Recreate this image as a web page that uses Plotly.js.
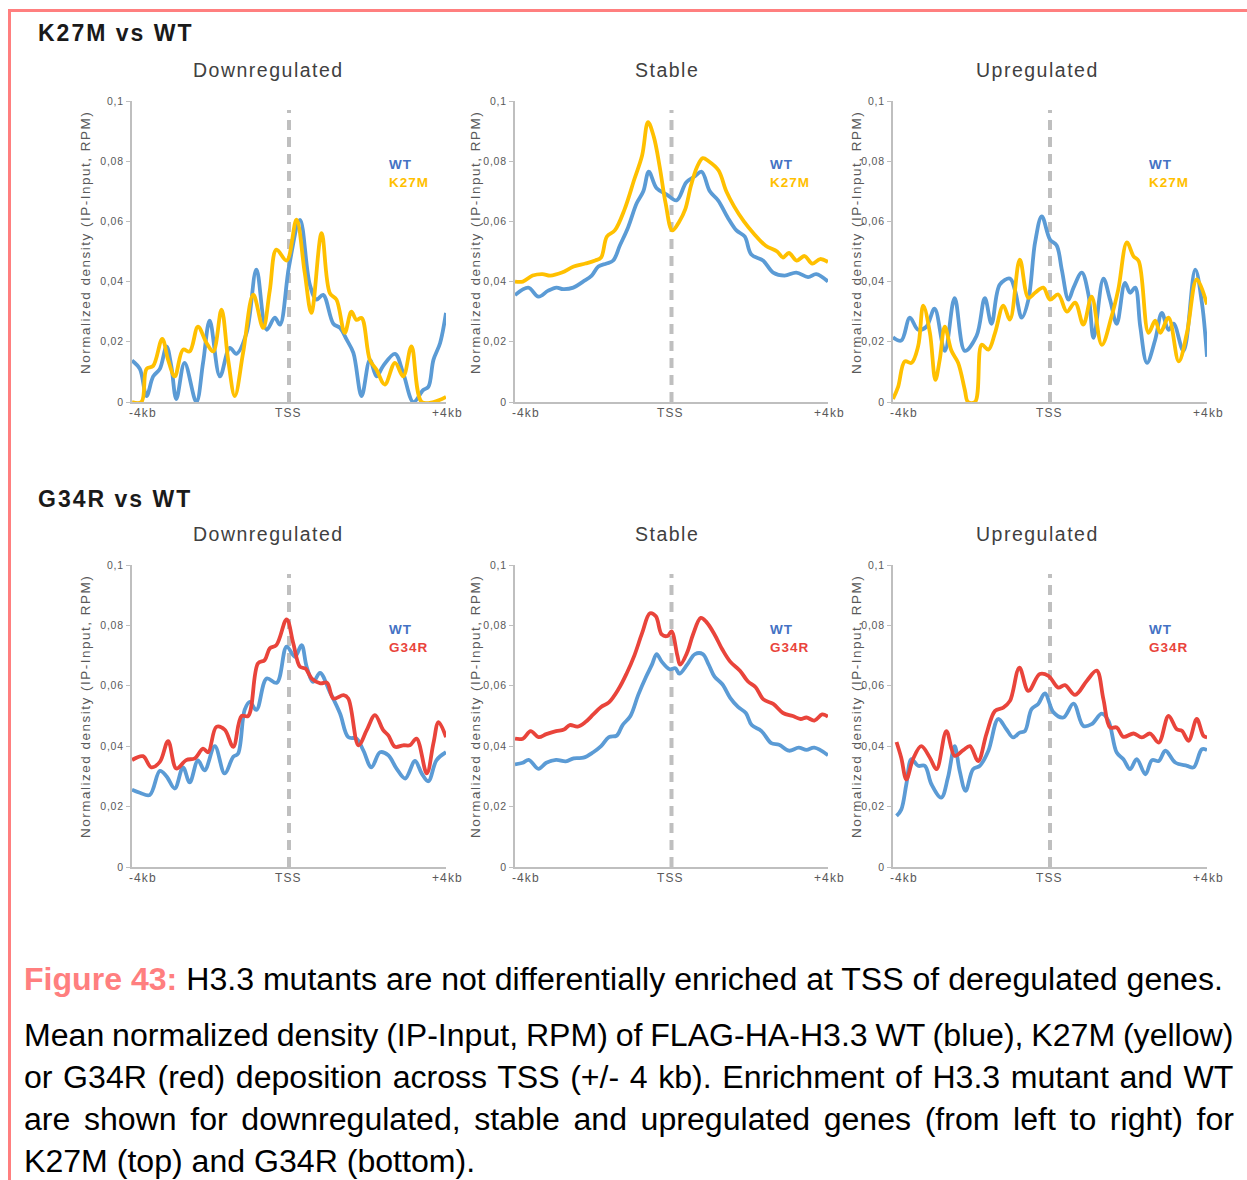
<!DOCTYPE html>
<html><head><meta charset="utf-8">
<script src="https://cdn.plot.ly/plotly-3.0.1.min.js"></script>
<style>html,body{margin:0;padding:0;background:#fff}#chart{width:1247px;height:1180px}</style>
</head><body><div id="chart"></div>
<script>
// ---------- DATA (x in kb relative to TSS, y = normalized density) ----------
var rowTitles = ["K27M vs WT", "G34R vs WT"];
var panelTitles = ["Downregulated", "Stable", "Upregulated"];
var mutantNames = ["K27M", "G34R"];
var xTickLabels = ["-4kb", "TSS", "+4kb"];
var yTickVals = [0, 0.02, 0.04, 0.06, 0.08, 0.1];
var yTickLabels = ["0", "0,02", "0,04", "0,06", "0,08", "0,1"];
var yTitle = "Normalized density (IP-Input, RPM)";

// K27M vs WT - Downregulated
var dn1_wt_x = [-4.00,-3.80,-3.63,-3.46,-3.29,-3.12,-3.00,-2.87,-2.66,-2.36,-2.19,-2.02,-1.76,-1.51,-1.34,-1.08,-0.83,-0.57,-0.36,-0.23,0.00,0.28,0.53,0.70,0.87,1.13,1.30,1.47,1.64,1.85,2.06,2.23,2.40,2.70,2.91,3.17,3.42,3.55,3.68,3.85,4.00];
var dn1_wt_y = [0.0138,0.011,0.002,0.0085,0.011,0.0185,0.012,0.001,0.013,0.0,0.013,0.027,0.0085,0.018,0.016,0.023,0.044,0.024,0.028,0.0257,0.045,0.0605,0.039,0.034,0.0356,0.026,0.0246,0.0207,0.0163,0.002,0.014,0.0085,0.012,0.016,0.0096,0.0,0.004,0.005,0.014,0.0196,0.0296];
var dn1_mut_x = [-4.00,-3.76,-3.63,-3.46,-3.23,-3.08,-2.91,-2.70,-2.53,-2.32,-2.10,-1.93,-1.72,-1.55,-1.38,-1.17,-0.91,-0.66,-0.49,-0.32,-0.06,0.19,0.40,0.57,0.83,1.04,1.21,1.42,1.59,1.72,1.85,2.06,2.23,2.44,2.70,2.91,3.12,3.38,3.68,4.00];
var dn1_mut_y = [0,0,0.011,0.012,0.021,0.014,0.0085,0.0174,0.0168,0.025,0.0196,0.0168,0.0307,0.014,0.002,0.0163,0.0357,0.0246,0.037,0.0506,0.047,0.0606,0.043,0.0296,0.0561,0.0362,0.034,0.023,0.030,0.0273,0.0279,0.014,0.0107,0.0058,0.013,0.0085,0.0185,0,0,0.0017];

// K27M vs WT - Stable
var st1_wt_x = [-4,-3.66,-3.4,-3.15,-2.94,-2.77,-2.51,-2.26,-2.04,-1.87,-1.66,-1.49,-1.32,-1.11,-0.89,-0.72,-0.58,-0.38,-0.13,0.13,0.38,0.6,0.77,0.98,1.19,1.45,1.66,1.87,2.04,2.34,2.6,2.89,3.19,3.49,3.7,4];
var st1_wt_y = [0.0355,0.038,0.035,0.037,0.038,0.0375,0.038,0.040,0.042,0.045,0.046,0.047,0.052,0.058,0.066,0.070,0.0765,0.071,0.069,0.067,0.073,0.075,0.0765,0.070,0.067,0.061,0.057,0.055,0.049,0.047,0.043,0.042,0.043,0.0415,0.0425,0.040];
var st1_mut_x = [-4,-3.8,-3.55,-3.3,-3.1,-2.8,-2.5,-2.2,-1.95,-1.8,-1.65,-1.45,-1.2,-0.95,-0.75,-0.6,-0.45,-0.3,-0.15,0.02,0.2,0.35,0.5,0.65,0.8,0.95,1.2,1.4,1.6,1.85,2.1,2.4,2.7,2.85,3.0,3.2,3.4,3.6,3.8,4.0];
var st1_mut_y = [0.040,0.040,0.042,0.0425,0.042,0.043,0.045,0.046,0.047,0.048,0.055,0.057,0.064,0.074,0.082,0.093,0.088,0.078,0.066,0.057,0.060,0.064,0.072,0.078,0.081,0.080,0.077,0.070,0.065,0.060,0.056,0.052,0.050,0.048,0.0495,0.047,0.0485,0.046,0.0475,0.0465];

// K27M vs WT - Upregulated
var up1_wt_x = [-4,-3.79,-3.57,-3.36,-3.15,-2.94,-2.68,-2.43,-2.17,-1.87,-1.66,-1.49,-1.28,-1.02,-0.89,-0.72,-0.55,-0.38,-0.21,0,0.17,0.30,0.47,0.60,0.81,0.98,1.11,1.36,1.53,1.70,1.91,2.04,2.17,2.30,2.47,2.68,2.85,3.02,3.15,3.40,3.70,3.87,4];
var up1_wt_y = [0.0215,0.0204,0.028,0.024,0.025,0.031,0.017,0.0345,0.017,0.022,0.0345,0.026,0.039,0.041,0.037,0.028,0.034,0.053,0.0617,0.054,0.052,0.044,0.034,0.038,0.043,0.0357,0.0213,0.041,0.034,0.026,0.0396,0.0363,0.038,0.025,0.013,0.0207,0.0296,0.024,0.026,0.017,0.044,0.033,0.015];
var up1_mut_x = [-4,-3.87,-3.70,-3.53,-3.36,-3.23,-3.06,-2.92,-2.81,-2.68,-2.51,-2.34,-2.17,-2.09,-1.91,-1.74,-1.57,-1.40,-1.19,-1.02,-0.77,-0.55,-0.38,-0.17,0,0.21,0.43,0.64,0.85,1.06,1.32,1.57,1.74,1.96,2.13,2.26,2.51,2.68,2.81,3.02,3.28,3.49,3.74,4];
var up1_mut_y = [0.001,0.005,0.0135,0.013,0.0185,0.032,0.023,0.0074,0.014,0.025,0.017,0.013,0.004,0,0,0.019,0.0174,0.023,0.032,0.0274,0.0473,0.0346,0.0363,0.038,0.034,0.0357,0.030,0.033,0.0257,0.035,0.019,0.0285,0.0374,0.053,0.0484,0.0468,0.023,0.027,0.023,0.028,0.0135,0.023,0.0407,0.0324];

// G34R vs WT - Downregulated
var dn2_wt_x = [-4,-3.80,-3.55,-3.29,-3.12,-2.91,-2.70,-2.53,-2.32,-2.15,-1.89,-1.64,-1.42,-1.30,-1.13,-1.00,-0.83,-0.57,-0.31,-0.06,0.15,0.32,0.45,0.62,0.79,1.04,1.30,1.51,1.72,1.89,2.10,2.32,2.53,2.74,2.96,3.21,3.38,3.55,3.76,4];
var dn2_wt_y = [0.0256,0.0246,0.0238,0.0318,0.030,0.026,0.033,0.028,0.0353,0.032,0.040,0.031,0.0365,0.0375,0.052,0.0547,0.052,0.0624,0.061,0.073,0.0696,0.0735,0.0663,0.0613,0.0643,0.058,0.0508,0.043,0.0425,0.0387,0.033,0.038,0.037,0.0326,0.0293,0.0351,0.031,0.0284,0.0354,0.038];
var dn2_mut_x = [-4,-3.72,-3.51,-3.29,-3.08,-2.87,-2.62,-2.40,-2.19,-2.06,-1.85,-1.64,-1.42,-1.21,-1.04,-0.79,-0.62,-0.49,-0.32,-0.06,0.11,0.28,0.42,0.58,0.80,0.97,1.13,1.39,1.51,1.77,1.98,2.19,2.40,2.53,2.70,2.91,3.08,3.25,3.51,3.68,3.81,4];
var dn2_mut_y = [0.0354,0.0367,0.033,0.0348,0.0417,0.0326,0.0354,0.036,0.0392,0.038,0.0464,0.0455,0.0398,0.050,0.050,0.0674,0.0685,0.0724,0.0735,0.082,0.074,0.0663,0.0657,0.0624,0.0608,0.061,0.0558,0.0569,0.0558,0.0403,0.0453,0.0503,0.0453,0.0436,0.0398,0.0403,0.0403,0.0425,0.031,0.041,0.048,0.043];

// G34R vs WT - Stable
var st2_wt_x = [-4,-3.8,-3.65,-3.4,-3.2,-2.95,-2.7,-2.5,-2.25,-2.0,-1.8,-1.6,-1.4,-1.25,-1.05,-0.85,-0.65,-0.5,-0.38,-0.25,-0.05,0.1,0.2,0.4,0.6,0.8,0.95,1.1,1.3,1.5,1.7,1.9,2.05,2.3,2.55,2.75,3.0,3.25,3.45,3.65,4.0];
var st2_wt_y = [0.034,0.0345,0.0355,0.0325,0.0345,0.0355,0.035,0.036,0.0362,0.038,0.040,0.043,0.0435,0.047,0.050,0.057,0.063,0.067,0.0705,0.068,0.0655,0.0658,0.064,0.067,0.0705,0.0705,0.067,0.063,0.0605,0.056,0.053,0.051,0.047,0.045,0.041,0.0405,0.0385,0.0395,0.0388,0.0395,0.037];
var st2_mut_x = [-4,-3.8,-3.6,-3.4,-3.2,-2.95,-2.75,-2.6,-2.4,-2.2,-2.0,-1.8,-1.6,-1.35,-1.15,-0.95,-0.75,-0.55,-0.4,-0.25,-0.1,0,0.15,0.22,0.4,0.55,0.75,0.9,1.1,1.3,1.5,1.75,1.95,2.15,2.35,2.6,2.85,3.1,3.3,3.45,3.65,3.85,4.0];
var st2_mut_y = [0.0425,0.0425,0.045,0.043,0.044,0.045,0.0455,0.047,0.0465,0.048,0.0505,0.053,0.0545,0.059,0.064,0.070,0.0775,0.084,0.083,0.077,0.0765,0.078,0.070,0.067,0.071,0.077,0.0825,0.081,0.077,0.072,0.068,0.065,0.0615,0.0595,0.0555,0.054,0.051,0.050,0.049,0.0495,0.0485,0.0505,0.0498];

// G34R vs WT - Upregulated
var up2_wt_x = [-3.91,-3.79,-3.66,-3.53,-3.36,-3.19,-3.02,-2.77,-2.60,-2.43,-2.30,-2.15,-1.96,-1.79,-1.57,-1.32,-1.11,-0.94,-0.77,-0.64,-0.47,-0.30,-0.13,0.09,0.34,0.60,0.85,1.06,1.32,1.49,1.70,1.87,2.04,2.21,2.43,2.60,2.77,2.94,3.19,3.49,3.66,3.87,4];
var up2_wt_y = [0.0169,0.019,0.0274,0.0357,0.0335,0.0335,0.0274,0.023,0.0296,0.040,0.0318,0.0252,0.0324,0.0335,0.0385,0.049,0.0456,0.0429,0.0445,0.045,0.0523,0.054,0.0575,0.0512,0.0495,0.0541,0.0467,0.0473,0.0508,0.0484,0.0379,0.0357,0.0324,0.0357,0.0307,0.0354,0.0351,0.0385,0.0346,0.0335,0.033,0.039,0.0387];
var up2_mut_x = [-3.91,-3.79,-3.66,-3.49,-3.28,-3.06,-2.89,-2.64,-2.43,-2.21,-2.04,-1.83,-1.62,-1.40,-1.19,-1.02,-0.78,-0.55,-0.26,-0.04,0.21,0.38,0.64,0.94,1.19,1.36,1.53,1.70,1.87,2.13,2.34,2.55,2.77,3.02,3.23,3.36,3.53,3.74,3.91,4];
var up2_mut_y = [0.0414,0.0362,0.029,0.0357,0.040,0.0362,0.0324,0.045,0.0368,0.0387,0.040,0.0351,0.044,0.0517,0.0528,0.055,0.066,0.0583,0.0639,0.0633,0.0594,0.0602,0.057,0.0617,0.065,0.0556,0.0462,0.0462,0.0431,0.0442,0.0429,0.0442,0.0412,0.050,0.0456,0.0451,0.0418,0.049,0.0434,0.0429];

var captionTitleBold = "Figure 43:";
var captionTitleRest = " H3.3 mutants are not differentially enriched at TSS of deregulated genes.";
var captionLines = [
  "Mean normalized density (IP-Input, RPM) of FLAG-HA-H3.3 WT (blue), K27M (yellow)",
  "or G34R (red) deposition across TSS (+/- 4 kb). Enrichment of H3.3 mutant and WT",
  "are shown for downregulated, stable and upregulated genes (from left to right) for",
  "K27M (top) and G34R (bottom)."
];

// ---------- STYLE ----------
var W = 1247, H = 1180;
var WT_COLOR = "#5B9BD5", WT_LABEL = "#4472C4";
var MUT_COLORS = ["#FFC000", "#E9443B"];
var AXIS_GRAY = "#BFBFBF", TEXT_GRAY = "#595959";
var SALMON = "#FF7F7F";
var FONT = "Liberation Sans, Arial, sans-serif";
function px(x) { return x / W; }
function py(y) { return 1 - y / H; }
function ls(t, s) { return '<span style="letter-spacing:' + s + 'px">' + t + '</span>'; }

var colsPx = [[132, 446], [515, 828], [893, 1207]];
var rowsPx = [[101, 402], [565, 867]];
var colTitleX = [268, 667, 1037];
var yTitleX = [85, 475, 856];
var legendX = [387, 768, 1147];

var series = [
  [[dn1_wt_x, dn1_wt_y, dn1_mut_x, dn1_mut_y], [st1_wt_x, st1_wt_y, st1_mut_x, st1_mut_y], [up1_wt_x, up1_wt_y, up1_mut_x, up1_mut_y]],
  [[dn2_wt_x, dn2_wt_y, dn2_mut_x, dn2_mut_y], [st2_wt_x, st2_wt_y, st2_mut_x, st2_mut_y], [up2_wt_x, up2_wt_y, up2_mut_x, up2_mut_y]]
];

var data = [], shapes = [], annotations = [];
var layout = {
  width: W, height: H, margin: {l: 0, r: 0, t: 0, b: 0},
  paper_bgcolor: "#ffffff", plot_bgcolor: "rgba(0,0,0,0)",
  showlegend: false, font: {family: FONT, color: TEXT_GRAY}
};

var idx = 0;
for (var r = 0; r < 2; r++) {
  for (var c = 0; c < 3; c++) {
    idx++;
    var sfx = idx === 1 ? "" : String(idx);
    var xa = "x" + sfx, ya = "y" + sfx;
    layout["xaxis" + sfx] = {
      domain: [px(colsPx[c][0]), px(colsPx[c][1])], range: [-4, 4], anchor: ya,
      showline: true, linecolor: AXIS_GRAY, linewidth: 2, showgrid: false, zeroline: false,
      showticklabels: false, ticks: "", fixedrange: true
    };
    layout["yaxis" + sfx] = {
      domain: [py(rowsPx[r][1]), py(rowsPx[r][0])], range: [0, 0.1], anchor: xa,
      showline: true, linecolor: AXIS_GRAY, linewidth: 2, showgrid: false, zeroline: false,
      tickmode: "array", tickvals: yTickVals,
      ticktext: yTickLabels.map(function (t) { return ls(t, 0.8); }),
      ticks: "outside", ticklen: 4, tickwidth: 1, tickcolor: AXIS_GRAY,
      tickfont: {family: FONT, size: 10.5, color: TEXT_GRAY}, fixedrange: true
    };
    var s = series[r][c];
    data.push({x: s[0], y: s[1], xaxis: xa, yaxis: ya, type: "scatter", mode: "lines",
      line: {color: WT_COLOR, width: 3.8, shape: "spline", smoothing: 1}, hoverinfo: "skip"});
    data.push({x: s[2], y: s[3], xaxis: xa, yaxis: ya, type: "scatter", mode: "lines",
      line: {color: MUT_COLORS[r], width: 3.8, shape: "spline", smoothing: 1}, hoverinfo: "skip"});
    // TSS dashed marker
    shapes.push({type: "line", xref: xa, yref: ya, x0: 0, x1: 0, y0: 0, y1: 0.097, layer: "below",
      line: {color: AXIS_GRAY, width: 4, dash: "10px,7px"}});
    // x tick labels
    var xf = {family: FONT, size: 12, color: TEXT_GRAY};
    annotations.push({xref: xa, yref: ya, x: -4, y: 0, xanchor: "left", yanchor: "top", xshift: -5, yshift: -2,
      text: ls(xTickLabels[0], 1.1), showarrow: false, font: xf});
    annotations.push({xref: xa, yref: ya, x: 0, y: 0, xanchor: "center", yanchor: "top", xshift: -1, yshift: -2,
      text: ls(xTickLabels[1], 1.1), showarrow: false, font: xf});
    annotations.push({xref: xa, yref: ya, x: 4, y: 0, xanchor: "center", yanchor: "top", xshift: 1, yshift: -2,
      text: ls(xTickLabels[2], 1.1), showarrow: false, font: xf});
    // panel title
    annotations.push({xref: "paper", yref: "paper", x: px(colTitleX[c]), y: py(rowsPx[r][0] - 31),
      xanchor: "center", yanchor: "middle", showarrow: false, text: ls(panelTitles[c], 1.5),
      font: {family: FONT, size: 19.5, color: "#404040"}});
    // y axis title
    annotations.push({xref: "paper", yref: "paper", x: px(yTitleX[c]), y: py(rowsPx[r][0] + 142),
      xanchor: "center", yanchor: "middle", showarrow: false, textangle: -90, text: ls(yTitle, 1.5),
      font: {family: FONT, size: 13.5, color: TEXT_GRAY}});
    // in-plot legend labels
    annotations.push({xref: "paper", yref: "paper", x: px(legendX[c]), y: py(rowsPx[r][0] + 64),
      xanchor: "left", yanchor: "middle", showarrow: false, text: "<b>" + ls("WT", 1) + "</b>",
      font: {family: FONT, size: 13.5, color: WT_LABEL}});
    annotations.push({xref: "paper", yref: "paper", x: px(legendX[c]), y: py(rowsPx[r][0] + 82),
      xanchor: "left", yanchor: "middle", showarrow: false, text: "<b>" + ls(mutantNames[r], 1) + "</b>",
      font: {family: FONT, size: 13.5, color: MUT_COLORS[r]}});
  }
  // row header
  annotations.push({xref: "paper", yref: "paper", x: px(36), y: py(r === 0 ? 33 : 499),
    xanchor: "left", yanchor: "middle", showarrow: false, text: "<b>" + ls(rowTitles[r], 2) + "</b>",
    font: {family: FONT, size: 23, color: "#1a1a1a"}});
}

// page border (salmon)
shapes.push({type: "line", xref: "paper", yref: "paper", x0: px(8), x1: px(1247), y0: py(10.5), y1: py(10.5),
  line: {color: SALMON, width: 3}});
shapes.push({type: "line", xref: "paper", yref: "paper", x0: px(9.5), x1: px(9.5), y0: py(9), y1: py(1180),
  line: {color: SALMON, width: 3}});

// caption
var CAP_SIZE = 32.1;
var CAP_X = 22;
annotations.push({xref: "paper", yref: "paper", x: px(CAP_X), y: py(979), xanchor: "left", yanchor: "middle",
  showarrow: false, text: '<b><span style="color:' + SALMON + '">' + captionTitleBold + '</span></b>' + captionTitleRest,
  font: {family: FONT, size: CAP_SIZE, color: "#000000"}});
var canvas = document.createElement("canvas");
var ctx = canvas.getContext("2d");
ctx.font = CAP_SIZE + 'px "Liberation Sans"';
var capY = [1035, 1077, 1119, 1161];
var targetW = 1235 - 25;
captionLines.forEach(function (line, i) {
  var txt = line;
  if (i < captionLines.length - 1) {
    var w = ctx.measureText(line).width;
    var nsp = line.split(" ").length - 1;
    var ws = (targetW - w) / nsp;
    txt = '<span style="word-spacing:' + ws.toFixed(2) + 'px">' + line + '</span>';
  }
  annotations.push({xref: "paper", yref: "paper", x: px(CAP_X), y: py(capY[i]), xanchor: "left", yanchor: "middle",
    showarrow: false, text: txt, font: {family: FONT, size: CAP_SIZE, color: "#000000"}});
});

layout.shapes = shapes;
layout.annotations = annotations;
Plotly.newPlot("chart", data, layout, {staticPlot: true, displayModeBar: false});
</script></body></html>
